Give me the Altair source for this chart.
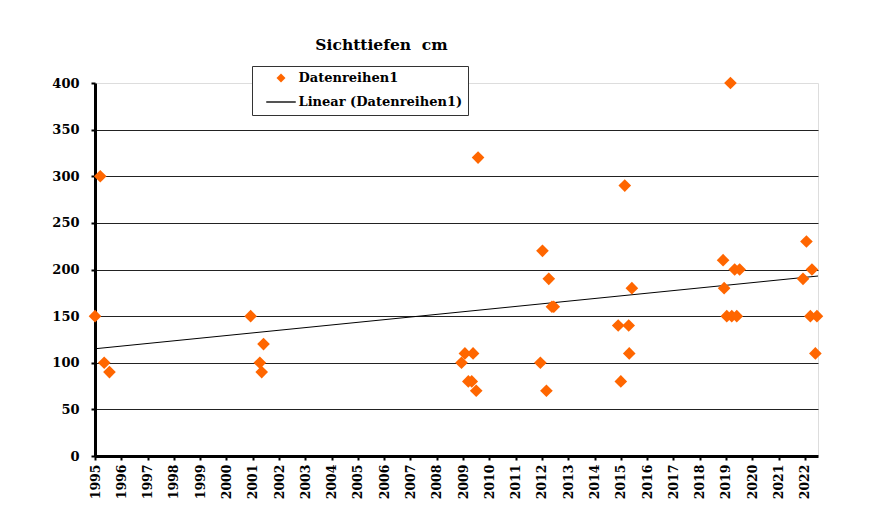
import altair as alt
import pandas as pd

# Data
years = [1995.0, 1995.2, 1995.35, 1995.55,
         2000.92, 2001.27, 2001.34, 2001.41,
         2008.94, 2009.07, 2009.2, 2009.33, 2009.38, 2009.5, 2009.57,
         2011.94, 2012.02, 2012.17, 2012.26, 2012.38, 2012.45,
         2014.9, 2015.0, 2015.15, 2015.3, 2015.32, 2015.42,
         2018.89, 2018.93, 2019.03, 2019.17, 2019.22, 2019.33, 2019.41, 2019.52,
         2021.93, 2022.06, 2022.21, 2022.27, 2022.4, 2022.46]
values = [150, 300, 100, 90,
          150, 100, 90, 120,
          100, 110, 80, 80, 110, 70, 320,
          100, 220, 70, 190, 160, 160,
          140, 80, 290, 140, 110, 180,
          210, 180, 150, 400, 150, 200, 150, 200,
          190, 230, 150, 200, 110, 150]
# linear trend line (Excel "Linear (Datenreihen1)") read at its two ends
trend_years = [1995.0, 2022.5]
trend_values = [115, 193]
tick_years = list(range(1995, 2023))
y_ticks = list(range(0, 401, 50))
series_names = ["Datenreihen1", "Linear (Datenreihen1)"]
series_colors = ["#FF6600", "#000000"]

df = pd.DataFrame({"Jahr": years, "Sichttiefe": values,
                   "series": [series_names[0]] * len(years)})
df_trend = pd.DataFrame({"Jahr": trend_years, "Sichttiefe": trend_values,
                         "series": [series_names[1]] * len(trend_years)})

FONT = "DejaVu Serif"

x_enc = alt.X("Jahr:Q",
              scale=alt.Scale(domain=[1995, 2022.5], nice=False, zero=False),
              axis=alt.Axis(values=tick_years, format="d", labelAngle=270,
                            labelAlign="right", labelBaseline="middle",
                            labelFont=FONT, labelFontWeight="bold", labelFontSize=12.5,
                            labelColor="black", labelPadding=4,
                            tickColor="black", tickSize=4, tickWidth=2,
                            domainColor="black", domainWidth=3,
                            grid=False, title=None, labelOverlap=False))
y_enc = alt.Y("Sichttiefe:Q",
              scale=alt.Scale(domain=[0, 400], nice=False),
              axis=alt.Axis(values=y_ticks, labelFont=FONT, labelFontWeight="bold",
                            labelFontSize=13, labelColor="black", labelPadding=12,
                            tickColor="black", tickSize=4, tickWidth=2,
                            domainColor="black", domainWidth=3,
                            grid=True, gridColor="#222222", gridWidth=1,
                            gridOpacity=alt.condition("datum.value == 400 || datum.value == 0",
                                                      alt.value(0), alt.value(1)),
                            title=None))

color_scale = alt.Scale(domain=series_names, range=series_colors)
# second legend symbol: a thin horizontal bar drawn as a custom path (line sample)
shape_scale = alt.Scale(domain=series_names,
                        range=["diamond", "M-3.3,-0.15H3.3V0.15H-3.3Z"])

legend = alt.Legend(
    title=None, orient="none", legendX=157, legendY=-17,
    strokeColor="#333333", fillColor="white", padding=5.5,
    labelFont=FONT, labelFontWeight="bold", labelFontSize=13, labelColor="black",
    labelLimit=400, labelOffset=11, rowPadding=10, symbolOffset=17, symbolSize=80,
    symbolOpacity=1, symbolStrokeWidth=0,
)

points = alt.Chart(df).mark_point(filled=True, opacity=1, size=160).encode(
    x=x_enc, y=y_enc,
    color=alt.Color("series:N", scale=color_scale, legend=legend),
    shape=alt.Shape("series:N", scale=shape_scale, legend=legend),
)

trend = alt.Chart(df_trend).mark_line(strokeWidth=1).encode(
    x=x_enc, y=y_enc,
    color=alt.Color("series:N", scale=color_scale, legend=legend),
)

chart = alt.layer(trend, points).properties(
    width=723, height=373,
    autosize="none",
    padding={"left": 87, "top": 75, "right": 50, "bottom": 50},
    title=alt.Title("Sichttiefen\u00a0\u00a0cm", font=FONT, fontWeight="bold",
                    fontSize=15.5, color="black", anchor="middle", dx=-75, offset=12),
).configure_view(stroke=None).configure(background="white")

chart.save("out.html", embed_options={"renderer": "svg", "actions": False})
